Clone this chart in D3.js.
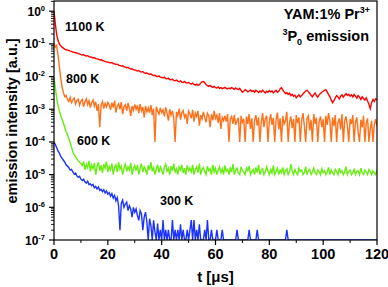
<!DOCTYPE html>
<html>
<head>
<meta charset="utf-8">
<script src="https://cdn.jsdelivr.net/npm/d3@7"></script>
<style>
  body { margin: 0; background: #fff; }
  svg { display: block; font-family: "Liberation Sans", Arial, sans-serif; font-weight: bold; }
</style>
</head>
<body>
<div id="chart-area"></div>
<script>
// sampling step of the decays, in microseconds
var dt = 0.5;

// log10 of emission intensity, one value every dt (t = 0 ... 120 us)
var log1100 = [
  0.00, -0.40, -0.72, -0.90, -1.00, -1.06, -1.10, -1.13, -1.16, -1.18, -1.19, -1.20, -1.22, -1.23, -1.25, -1.26, -1.27, -1.28, -1.30, -1.31, -1.33,
  -1.34, -1.33, -1.36, -1.37, -1.36, -1.39, -1.40, -1.41, -1.43, -1.42, -1.45, -1.46, -1.47, -1.49, -1.48, -1.51, -1.52, -1.54, -1.55, -1.56,
  -1.57, -1.58, -1.57, -1.60, -1.61, -1.63, -1.62, -1.65, -1.66, -1.68, -1.67, -1.70, -1.71, -1.73, -1.72, -1.75, -1.77, -1.76, -1.79, -1.80,
  -1.81, -1.83, -1.82, -1.85, -1.86, -1.85, -1.88, -1.90, -1.89, -1.92, -1.93, -1.92, -1.95, -1.97, -1.96, -1.99, -2.00, -1.98, -2.02, -2.03,
  -2.04, -2.02, -2.06, -2.07, -2.05, -2.09, -2.10, -2.08, -2.12, -2.13, -2.11, -2.14, -2.16, -2.13, -2.17, -2.18, -2.15, -2.19, -2.20, -2.18,
  -2.21, -2.23, -2.20, -2.24, -2.26, -2.23, -2.27, -2.25, -2.20, -2.16, -2.15, -2.19, -2.24, -2.28, -2.30, -2.27, -2.31, -2.33, -2.30, -2.34,
  -2.35, -2.32, -2.36, -2.34, -2.37, -2.35, -2.33, -2.36, -2.38, -2.35, -2.37, -2.34, -2.36, -2.39, -2.35, -2.38, -2.40, -2.36, -2.42, -2.48,
  -2.45, -2.40, -2.43, -2.47, -2.44, -2.41, -2.46, -2.43, -2.48, -2.42, -2.45, -2.49, -2.44, -2.47, -2.42, -2.46, -2.50, -2.45, -2.48, -2.43,
  -2.47, -2.44, -2.50, -2.46, -2.42, -2.48, -2.45, -2.38, -2.34, -2.41, -2.47, -2.52, -2.49, -2.55, -2.51, -2.58, -2.54, -2.60, -2.57, -2.65,
  -2.60, -2.56, -2.62, -2.58, -2.53, -2.49, -2.44, -2.42, -2.46, -2.52, -2.57, -2.62, -2.55, -2.50, -2.58, -2.63, -2.56, -2.52, -2.48, -2.45,
  -2.42, -2.40, -2.47, -2.55, -2.62, -2.72, -2.80, -2.74, -2.65, -2.58, -2.62, -2.68, -2.60, -2.56, -2.63, -2.57, -2.52, -2.58, -2.54, -2.60,
  -2.56, -2.62, -2.55, -2.60, -2.66, -2.58, -2.63, -2.70, -2.62, -2.67, -2.72, -2.65, -2.75, -2.85, -2.98, -2.80, -2.70, -2.76, -2.68, -2.72
];

var log800 = [
  -0.98, -1.10, -1.05, -1.35, -1.70, -2.05, -2.32, -2.50, -2.62, -2.58, -2.70, -2.76, -2.64, -2.80, -2.71, -2.66, -2.84, -2.73, -2.69, -2.88, -2.75,
  -2.70, -2.92, -2.78, -2.68, -2.86, -2.74, -2.95, -2.80, -2.72, -2.90, -2.77, -3.05, -2.84, -3.55, -2.88, -2.76, -2.98, -2.82, -2.93, -2.79,
  -2.87, -3.02, -2.80, -2.95, -2.74, -3.10, -2.89, -2.83, -3.00, -2.78, -3.15, -2.92, -2.86, -3.05, -2.81, -2.97, -3.20, -2.90, -3.03, -2.85,
  -3.00, -2.88, -3.12, -2.84, -3.05, -2.93, -3.25, -2.90, -3.08, -2.95, -3.10, -2.87, -3.18, -2.98, -4.00, -2.92, -3.06, -3.15, -2.96, -3.10,
  -3.02, -3.22, -2.94, -3.12, -3.35, -3.00, -3.18, -3.05, -3.28, -4.00, -3.08, -3.20, -2.98, -3.32, -3.10, -3.04, -3.25, -3.14, -3.45, -3.06,
  -3.15, -3.28, -3.02, -3.38, -3.12, -3.22, -3.05, -3.50, -3.18, -3.30, -3.08, -3.25, -3.40, -3.12, -3.20, -3.55, -3.15, -3.34, -3.05, -3.28,
  -3.18, -3.42, -3.12, -3.60, -3.25, -3.35, -3.20, -3.38, -3.15, -4.00, -3.30, -3.22, -3.45, -3.18, -3.48, -3.35, -3.26, -4.00, -3.20, -3.40,
  -3.30, -4.00, -3.22, -3.45, -3.15, -3.60, -3.28, -4.00, -3.35, -3.18, -3.50, -3.25, -4.00, -3.40, -3.12, -3.55, -3.30, -3.20, -4.00, -3.38,
  -3.15, -3.48, -3.26, -4.00, -3.32, -3.10, -3.62, -3.28, -4.00, -3.20, -3.45, -3.35, -3.08, -4.00, -3.40, -3.22, -3.58, -3.30, -4.00, -3.18,
  -3.42, -3.25, -4.00, -3.35, -3.12, -3.50, -4.00, -3.28, -3.20, -3.65, -3.32, -4.00, -3.15, -3.45, -3.26, -4.00, -3.38, -3.22, -3.55, -3.30,
  -4.00, -3.20, -3.48, -3.12, -3.36, -4.00, -3.25, -3.52, -3.18, -4.00, -3.40, -3.28, -3.62, -3.15, -4.00, -3.35, -3.22, -3.50, -4.00, -3.30,
  -3.45, -3.18, -4.00, -3.38, -3.25, -3.70, -4.00, -3.32, -3.55, -3.20, -4.00, -3.42, -3.28, -4.00, -3.60, -3.35, -4.00, -3.48, -3.30, -3.52
];

var log600 = [
  -2.00, -2.35, -2.65, -2.88, -3.05, -3.20, -3.30, -3.42, -3.55, -3.68, -3.78, -3.90, -4.02, -4.15, -4.30, -4.40, -4.46, -4.52, -4.58, -4.62, -4.66,
  -4.72, -4.60, -4.85, -4.68, -4.78, -4.58, -4.90, -4.70, -4.82, -4.65, -5.00, -4.75, -4.62, -4.88, -4.72, -4.95, -4.68, -4.80, -4.60, -4.92,
  -4.75, -4.85, -4.66, -5.00, -4.78, -4.70, -4.92, -4.62, -4.84, -4.74, -5.00, -4.80, -4.68, -4.90, -4.76, -4.86, -4.64, -5.00, -4.82, -4.72,
  -4.88, -4.70, -5.00, -4.80, -4.66, -4.92, -4.76, -4.84, -5.00, -4.72, -4.86, -4.62, -4.90, -4.78, -5.00, -4.82, -4.70, -4.94, -4.76, -4.86,
  -5.00, -4.78, -4.68, -4.90, -4.80, -5.00, -4.74, -4.88, -4.66, -4.92, -4.82, -5.00, -4.76, -4.86, -4.70, -4.95, -4.80, -5.00, -4.72, -4.88,
  -4.80, -4.92, -4.70, -5.00, -4.84, -4.76, -4.94, -4.66, -5.00, -4.86, -4.78, -4.90, -5.00, -4.74, -4.88, -4.82, -5.00, -4.70, -4.92, -4.80,
  -5.00, -4.86, -4.76, -4.94, -4.82, -5.00, -4.72, -4.90, -4.84, -5.00, -4.78, -4.92, -4.68, -5.00, -4.86, -4.80, -4.95, -5.00, -4.76, -4.88,
  -4.92, -5.00, -4.80, -4.88, -4.74, -5.00, -4.90, -4.84, -5.00, -4.78, -4.94, -4.70, -5.00, -4.86, -4.82, -5.00, -4.92, -4.76, -4.88, -5.00,
  -4.84, -4.95, -4.72, -5.00, -4.90, -4.80, -5.00, -4.86, -4.94, -4.78, -5.00, -4.88, -4.82, -5.00, -4.92, -4.68, -4.90, -5.00, -4.84, -4.94,
  -5.00, -4.80, -4.90, -4.86, -5.00, -4.94, -4.76, -5.00, -4.88, -4.84, -5.00, -4.92, -4.80, -4.95, -5.00, -4.86, -4.90, -5.00, -4.82, -4.94,
  -4.88, -5.00, -4.92, -4.78, -5.00, -4.86, -4.95, -5.00, -4.84, -4.90, -5.00, -4.80, -4.94, -4.88, -5.00, -4.92, -4.76, -5.00, -4.90, -4.86,
  -5.00, -4.94, -4.84, -5.00, -4.90, -4.88, -5.00, -4.80, -4.95, -5.00, -4.86, -4.92, -5.00, -4.84, -4.90, -5.00, -4.88, -4.94, -5.00, -4.86
];

var log300 = [
  -4.00, -4.08, -4.18, -4.28, -4.34, -4.44, -4.50, -4.56, -4.62, -4.70, -4.74, -4.78, -4.86, -4.84, -4.92, -4.98, -4.95, -5.04, -5.08, -5.05, -5.14,
  -5.18, -5.14, -5.22, -5.26, -5.20, -5.30, -5.28, -5.34, -5.30, -5.40, -5.36, -5.44, -5.38, -5.48, -5.45, -5.52, -5.46, -5.56, -5.50, -5.60,
  -5.55, -5.66, -5.58, -5.72, -5.64, -5.80, -5.70, -5.96, -6.70, -5.88, -5.78, -6.00, -5.90, -5.84, -6.10, -5.95, -6.05, -6.30, -6.00, -6.15,
  -6.05, -6.25, -6.40, -6.10, -6.20, -6.70, -6.30, -6.15, -6.45, -7, -6.35, -6.55, -7, -6.40, -6.75, -7, -6.50, -7, -6.69, -7,
  -6.39, -7, -6.69, -7, -6.69, -7, -7, -6.39, -7, -6.69, -7, -6.69, -7, -6.52, -7, -6.69, -7, -7, -6.69, -7,
  -6.69, -6.39, -7, -6.39, -7, -6.69, -7, -6.52, -7, -7,
  -7, -6.69, -7, -6.39, -7, -7, -6.69, -7, -7, -7,
  -6.69, -7, -7, -7, -6.69, -7, -7, -7, -7, -7,
  -7, -7, -7, -7, -7, -6.69, -7, -7, -7, -7,
  -7, -7, -7, -7, -6.69, -7, -7, -7, -7, -7,
  -6.69, -7, -7, -7, -7, -7, -7, -7, -7, -7,
  -7, -7, -7, -7, -7, -7, -7, -7, -7, -7,
  -7, -7, -6.69, -7, -7, -7, -7, -7, -7, -7,
  -7, -7, -7, -7, -7, -7, -7, -7, -7, -7,
  -7, -7, -7, -7, -7, -7, -7, -7, -7, -7,
  -7, -7, -7, -7, -7, -7, -7, -7, -7, -7,
  -7, -7, -7, -7, -7, -7, -7, -7, -7, -7,
  -7, -7, -7, -7, -7, -7, -7, -7, -7, -7,
  -7, -7, -7, -7, -7, -7, -7, -7, -7, -7
];

var seriesNames = ["1100 K", "800 K", "600 K", "300 K"];
var seriesColors = ["#ff0000", "#ff7018", "#66ee11", "#1a33ff"];
var xTicks = [0, 20, 40, 60, 80, 100, 120];
var yExponents = [0, -1, -2, -3, -4, -5, -6, -7];

var margin = { left: 54, right: 11, top: 1, bottom: 47 };
var width = 388 - margin.left - margin.right;
var height = 287 - margin.top - margin.bottom;

var svg = d3.select("#chart-area")
    .append("svg")
    .attr("width", 388)
    .attr("height", 287);

var g = svg.append("g")
    .attr("transform", "translate(" + margin.left + "," + margin.top + ")");

var x = d3.scaleLinear().domain([0, 120]).range([0, width]);
var y = d3.scaleLog().domain([1e-7, 2.05]).range([height, 0]);

g.append("clipPath").attr("id", "plot")
    .append("rect").attr("width", width).attr("height", height);

var line = d3.line()
    .x(function (d) { return x(d.t); })
    .y(function (d) { return y(d.v); });

[log1100, log800, log600, log300].forEach(function (arr, k) {
    var pts = arr.map(function (v, i) { return { t: i * dt, v: Math.pow(10, v) }; });
    g.append("path")
        .datum(pts)
        .attr("clip-path", "url(#plot)")
        .attr("fill", "none")
        .attr("stroke", seriesColors[k])
        .attr("stroke-width", 1.4)
        .attr("d", line);
});

// frame
g.append("rect")
    .attr("width", width).attr("height", height)
    .attr("fill", "none").attr("stroke", "#000").attr("stroke-width", 1.2);

// x axis
var xMinor = [10, 30, 50, 70, 90, 110];
g.selectAll(".xmaj").data(xTicks).enter().append("line")
    .attr("x1", function (d) { return x(d); }).attr("x2", function (d) { return x(d); })
    .attr("y1", height).attr("y2", height + 5)
    .attr("stroke", "#000").attr("stroke-width", 1.2);
g.selectAll(".xmin").data(xMinor).enter().append("line")
    .attr("x1", function (d) { return x(d); }).attr("x2", function (d) { return x(d); })
    .attr("y1", height).attr("y2", height + 3)
    .attr("stroke", "#000").attr("stroke-width", 1);
g.selectAll(".xlab").data(xTicks).enter().append("text")
    .attr("x", function (d) { return x(d); })
    .attr("y", height + 19)
    .attr("text-anchor", "middle")
    .attr("font-size", "14.5px")
    .text(function (d) { return d; });

// y axis (log)
var yMinor = [];
for (var e = -7; e <= 0; e++) {
    for (var m = 2; m <= 9; m++) {
        var v = m * Math.pow(10, e);
        if (v <= 2.05) yMinor.push(v);
    }
}
g.selectAll(".ymaj").data(yExponents).enter().append("line")
    .attr("x1", -5).attr("x2", 0)
    .attr("y1", function (d) { return y(Math.pow(10, d)); })
    .attr("y2", function (d) { return y(Math.pow(10, d)); })
    .attr("stroke", "#000").attr("stroke-width", 1.2);
g.selectAll(".ymin").data(yMinor).enter().append("line")
    .attr("x1", -3).attr("x2", 0)
    .attr("y1", function (d) { return y(d); })
    .attr("y2", function (d) { return y(d); })
    .attr("stroke", "#000").attr("stroke-width", 0.9);

var ylab = g.selectAll(".ylab").data(yExponents).enter().append("text")
    .attr("x", -9)
    .attr("y", function (d) { return y(Math.pow(10, d)) + 4.5; })
    .attr("text-anchor", "end")
    .attr("font-size", "12px");
ylab.append("tspan").text("10");
ylab.append("tspan")
    .attr("dy", -5)
    .attr("font-size", "7.5px")
    .text(function (d) { return d; });

// axis titles
svg.append("text")
    .attr("x", margin.left + width / 2)
    .attr("y", 282)
    .attr("text-anchor", "middle")
    .attr("font-size", "15px")
    .text("t [\u03bcs]");

svg.append("text")
    .attr("transform", "translate(17," + 121 + ") rotate(-90)")
    .attr("text-anchor", "middle")
    .attr("font-size", "14.5px")
    .text("emission intensity [a.u.]");

// curve labels
var labelPos = [[65, 31], [66, 83], [77, 145], [160, 205]];
seriesNames.forEach(function (s, k) {
    svg.append("text")
        .attr("x", labelPos[k][0]).attr("y", labelPos[k][1])
        .attr("font-size", "12.5px")
        .text(s);
});

// sample annotation
var t1 = svg.append("text")
    .attr("x", 370).attr("y", 19)
    .attr("text-anchor", "end")
    .attr("font-size", "14.5px");
t1.append("tspan").text("YAM:1% Pr");
t1.append("tspan").attr("dy", -6).attr("font-size", "9px").text("3+");

var t2 = svg.append("text")
    .attr("x", 369).attr("y", 41)
    .attr("text-anchor", "end")
    .attr("font-size", "14.5px");
t2.append("tspan").attr("dy", -6).attr("font-size", "9px").text("3");
t2.append("tspan").attr("dy", 6).text("P");
t2.append("tspan").attr("dy", 4).attr("font-size", "9px").text("0");
t2.append("tspan").attr("dy", -4).text(" emission");
</script>
</body>
</html>
